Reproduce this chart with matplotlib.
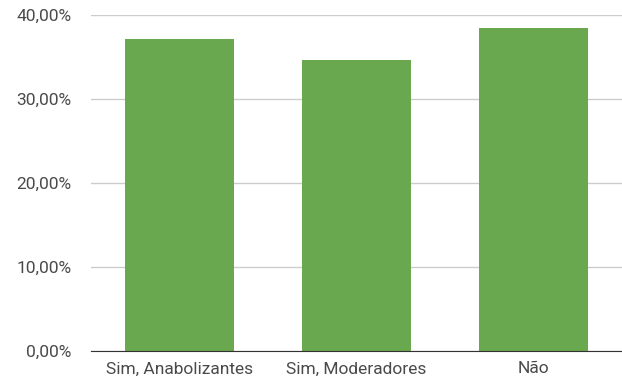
import matplotlib.pyplot as plt
from matplotlib.ticker import FuncFormatter

categorias = ["Sim, Anabolizantes", "Sim, Moderadores", "Não"]
percentuais = [37.2, 34.6, 38.4]
yticks = [0, 10, 20, 30, 40]

plt.rcParams["font.family"] = ["Roboto", "DejaVu Sans"]

fig = plt.figure(figsize=(6.22, 3.80), dpi=100)
ax = fig.add_axes([0.1463, 0.0763, 0.8537, 0.8842])

x = range(len(categorias))
ax.bar(x, percentuais, width=0.615, color="#6aa84f", zorder=3)

ax.set_xlim(-0.5, len(categorias) - 0.5)
ax.set_ylim(0, 40)
ax.set_yticks(yticks)
ax.yaxis.set_major_formatter(FuncFormatter(lambda v, _: f"{v:.2f}%".replace(".", ",")))
ax.set_xticks(list(x))
ax.set_xticklabels(categorias)

ax.grid(axis="y", color="#cccccc", linewidth=1, zorder=0)
for s in ["top", "right", "left"]:
    ax.spines[s].set_visible(False)
ax.spines["bottom"].set_color("#333333")
ax.spines["bottom"].set_zorder(4)
ax.tick_params(axis="both", length=0, colors="#4a4a4a")
ax.tick_params(axis="y", pad=14, labelsize=12.5)
ax.tick_params(axis="x", pad=7.5, labelsize=12.5)

fig.savefig("out.png", dpi=100)
